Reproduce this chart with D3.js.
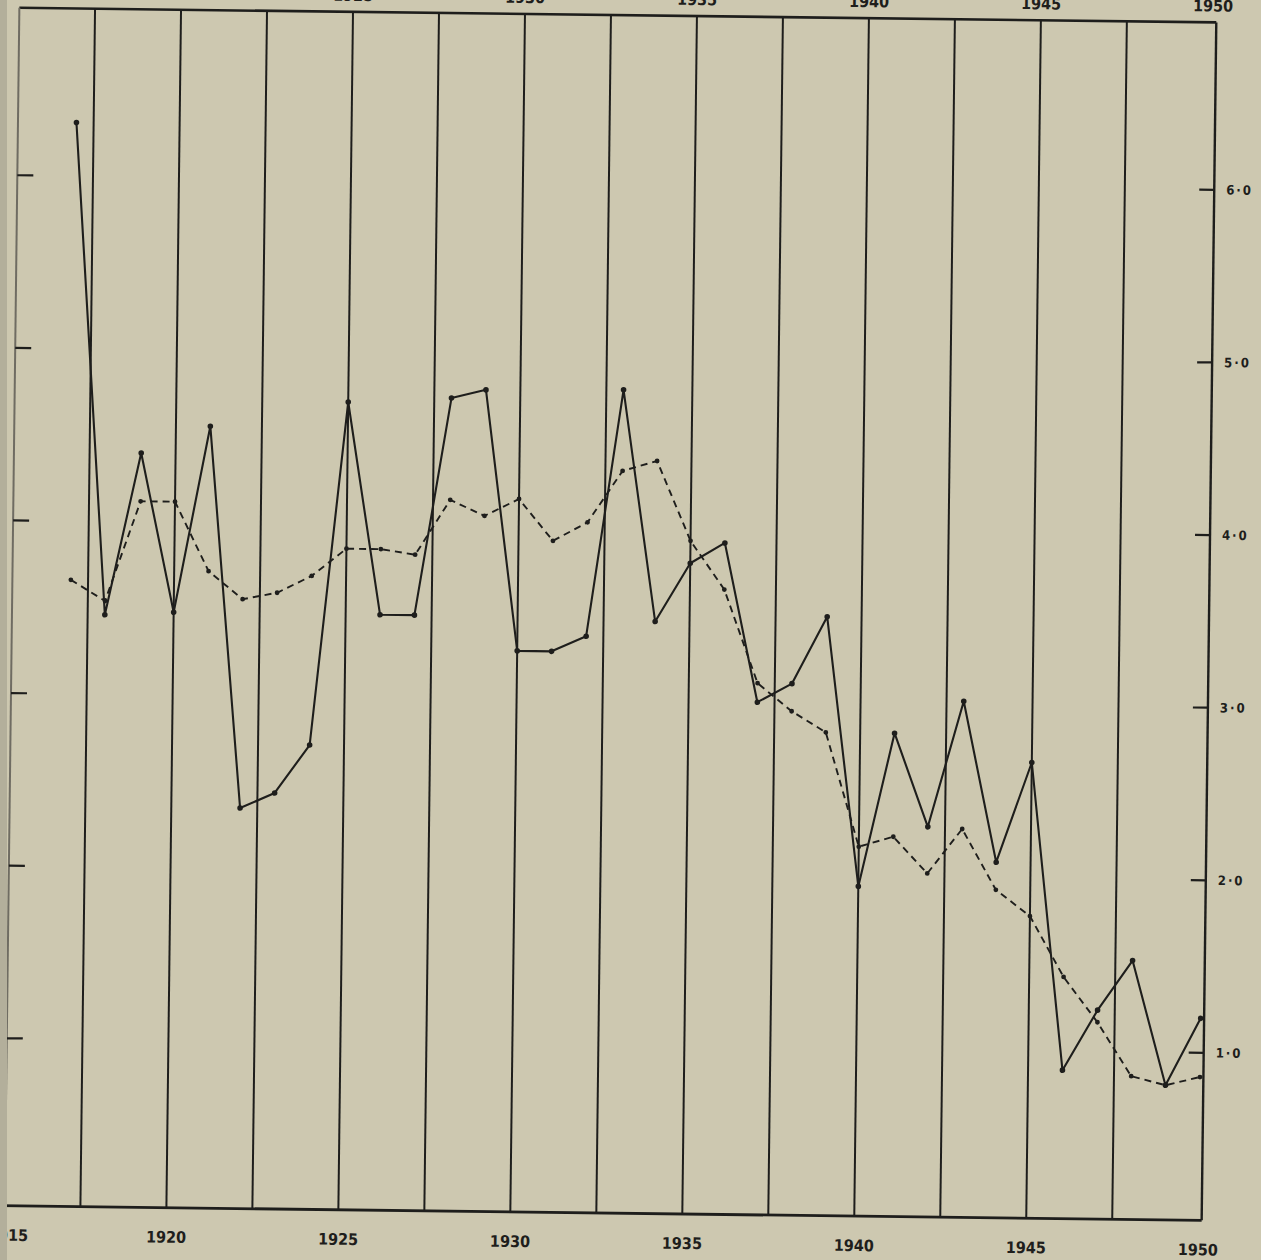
<!DOCTYPE html>
<html>
<head>
<meta charset="utf-8">
<script src="https://cdn.jsdelivr.net/npm/d3@7"></script>
<style>
  html, body { margin: 0; padding: 0; background: #cdc8b0; overflow: hidden; }
  svg { display: block; }
</style>
</head>
<body>
<div id="chart"></div>
<script>
// Years plotted
const years = [1917, 1918, 1919, 1920, 1921, 1922, 1923, 1924, 1925, 1926, 1927,
  1928, 1929, 1930, 1931, 1932, 1933, 1934, 1935, 1936, 1937, 1938, 1939,
  1940, 1941, 1942, 1943, 1944, 1945, 1946, 1947, 1948, 1949, 1950];

// annual values (solid line)
const annual = [6.31, 3.46, 4.40, 3.48, 4.56, 2.35, 2.44, 2.72, 4.71, 3.48, 3.48,
  4.74, 4.79, 3.28, 3.28, 3.37, 4.80, 3.46, 3.80, 3.92, 3.00, 3.11, 3.50,
  1.94, 2.83, 2.29, 3.02, 2.09, 2.67, 0.89, 1.24, 1.53, 0.81, 1.20];

// smoothed values (dashed line)
const smoothed = [3.66, 3.54, 4.12, 4.12, 3.72, 3.56, 3.60, 3.70, 3.86, 3.86, 3.83,
  4.15, 4.06, 4.16, 3.92, 4.03, 4.33, 4.39, 3.93, 3.65, 3.11, 2.95, 2.83,
  2.17, 2.23, 2.02, 2.28, 1.93, 1.78, 1.43, 1.17, 0.86, 0.81, 0.86];

// vertical rules, year labels, value ticks
const gridYears = [1917.5, 1920, 1922.5, 1925, 1927.5, 1930, 1932.5, 1935,
  1937.5, 1940, 1942.5, 1945, 1947.5];
const labelYears = [1915, 1920, 1925, 1930, 1935, 1940, 1945, 1950];
const valueTicks = [1, 2, 3, 4, 5, 6];

const width = 1261;
const height = 1260;
const ink = "#1e1e1c";
const labelFont = "'Liberation Sans Narrow', 'DejaVu Sans Condensed', sans-serif";

const x = d3.scaleLinear().domain([1915.3, 1950.1]).range([12, 1209]);
const y = d3.scaleLinear().domain([0.03, 6.97]).range([1213, 15]);

const svg = d3.select("#chart").append("svg")
  .attr("width", width)
  .attr("height", height);

svg.append("rect")
  .attr("width", width).attr("height", height)
  .attr("fill", "#cdc8b0");

// the scanned page sits a little skewed
const g = svg.append("g")
  .attr("transform", "rotate(0.7, 605, 615)");

const [x0, x1] = x.range();
const [yb, yt] = y.range();

// vertical rules
g.selectAll("line.grid")
  .data(gridYears)
  .enter()
  .append("line")
  .attr("class", "grid")
  .attr("x1", d => x(d)).attr("x2", d => x(d))
  .attr("y1", yt).attr("y2", yb)
  .attr("stroke", ink)
  .attr("stroke-width", 2);

// frame
g.append("line").attr("x1", x0).attr("x2", x1).attr("y1", yt).attr("y2", yt)
  .attr("stroke", ink).attr("stroke-width", 2.6);
g.append("line").attr("x1", -20).attr("x2", x1).attr("y1", yb).attr("y2", yb)
  .attr("stroke", ink).attr("stroke-width", 2.8);
g.append("line").attr("x1", x1).attr("x2", x1).attr("y1", yt).attr("y2", yb)
  .attr("stroke", ink).attr("stroke-width", 2.4);
g.append("line").attr("x1", x0).attr("x2", x0).attr("y1", yt).attr("y2", yb)
  .attr("stroke", "#6f6c62").attr("stroke-width", 2);

// value ticks, left and right
g.selectAll("line.ltick")
  .data(valueTicks)
  .enter()
  .append("line")
  .attr("x1", x0).attr("x2", x0 + 16)
  .attr("y1", d => y(d)).attr("y2", d => y(d))
  .attr("stroke", ink).attr("stroke-width", 2.2);

g.selectAll("line.rtick")
  .data(valueTicks)
  .enter()
  .append("line")
  .attr("x1", x1 - 15).attr("x2", x1)
  .attr("y1", d => y(d)).attr("y2", d => y(d))
  .attr("stroke", ink).attr("stroke-width", 2.2);

g.selectAll("text.rlabel")
  .data(valueTicks)
  .enter()
  .append("text")
  .attr("x", x1 + 12)
  .attr("y", d => y(d))
  .attr("dy", "0.35em")
  .attr("font-family", labelFont)
  .attr("font-size", 13)
  .attr("font-weight", "bold")
  .attr("letter-spacing", 2)
  .attr("fill", ink)
  .text(d => d3.format(".1f")(d).replace(".", "·"));

// year labels, bottom and (cut off) top
g.selectAll("text.bottom")
  .data(labelYears)
  .enter()
  .append("text")
  .attr("x", d => d === 1915 ? x(d) + 14 : x(d))
  .attr("y", yb + 35)
  .attr("text-anchor", "middle")
  .attr("font-family", labelFont)
  .attr("font-size", 16)
  .attr("font-weight", "bold")
  .attr("fill", ink)
  .text(d => d);

g.selectAll("text.top")
  .data(labelYears)
  .enter()
  .append("text")
  .attr("x", d => x(d))
  .attr("y", yt - 11)
  .attr("text-anchor", "middle")
  .attr("font-family", labelFont)
  .attr("font-size", 16)
  .attr("font-weight", "bold")
  .attr("fill", ink)
  .text(d => d);

// series
const rows = years.map((yr, i) => ({ year: yr, annual: annual[i], smoothed: smoothed[i] }));

const solidLine = d3.line().x(d => x(d.year)).y(d => y(d.annual));
const dashLine = d3.line().x(d => x(d.year)).y(d => y(d.smoothed));

g.append("path")
  .datum(rows)
  .attr("d", dashLine)
  .attr("fill", "none")
  .attr("stroke", ink)
  .attr("stroke-width", 1.9)
  .attr("stroke-dasharray", "7,5");

g.append("path")
  .datum(rows)
  .attr("d", solidLine)
  .attr("fill", "none")
  .attr("stroke", ink)
  .attr("stroke-width", 2.1)
  .attr("stroke-linejoin", "round");

g.selectAll("circle.sm")
  .data(rows)
  .enter()
  .append("circle")
  .attr("cx", d => x(d.year))
  .attr("cy", d => y(d.smoothed))
  .attr("r", 2.4)
  .attr("fill", ink);

g.selectAll("circle.an")
  .data(rows)
  .enter()
  .append("circle")
  .attr("cx", d => x(d.year))
  .attr("cy", d => y(d.annual))
  .attr("r", 2.8)
  .attr("fill", ink);

// dark page edge at far left
svg.append("rect")
  .attr("x", 0).attr("y", 0)
  .attr("width", 7).attr("height", height)
  .attr("fill", "#b3af9b");
</script>
</body>
</html>
